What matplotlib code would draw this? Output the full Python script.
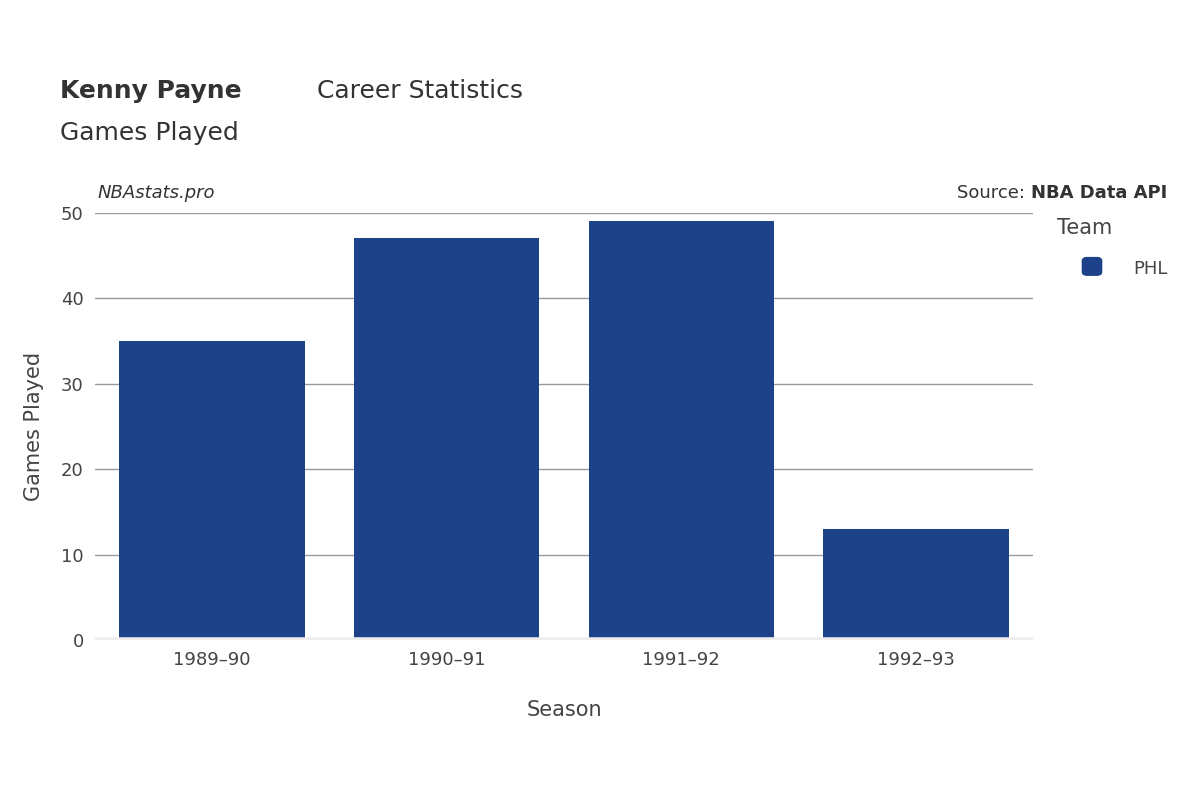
import matplotlib.pyplot as plt
from matplotlib.patches import FancyBboxPatch

seasons = ["1989–90", "1990–91", "1991–92", "1992–93"]
games = [35, 47, 49, 13]
team = "PHL"
color = "#1d428a"

fig = plt.figure(figsize=(12, 8), dpi=100)
ax = fig.add_axes([0.079, 0.2, 0.782, 0.534])

x = list(range(len(seasons)))
ax.bar(x, games, width=0.79, color=color, zorder=3)

ax.set_xlim(-0.5, 3.5)
ax.set_ylim(0, 50)
ax.set_yticks([0, 10, 20, 30, 40, 50])
ax.set_xticks(x)
ax.set_xticklabels(seasons)
ax.tick_params(axis="both", labelsize=13, colors="#444444", length=0, pad=8)
ax.grid(axis="y", color="#999999", linewidth=1, zorder=0)
ax.axhline(0, color="#eeeeee", linewidth=4, zorder=4)
for s in ax.spines.values():
    s.set_visible(False)

ax.set_xlabel("Season", fontsize=15, color="#444444", labelpad=22)
ax.set_ylabel("Games Played", fontsize=15, color="#444444", labelpad=12)

fig.text(0.05, 0.878, "Kenny Payne", fontsize=18, fontweight="bold", color="#333333")
fig.text(0.2645, 0.878, "Career Statistics", fontsize=18, color="#333333")
fig.text(0.05, 0.825, "Games Played", fontsize=18, color="#333333")
fig.text(0.081, 0.752, "NBAstats.pro", fontsize=13, style="italic", color="#333333")
fig.text(0.859, 0.752, "Source: ", fontsize=13, color="#333333", ha="right")
fig.text(0.859, 0.752, "NBA Data API", fontsize=13, fontweight="bold", color="#333333", ha="left")

fig.text(0.881, 0.708, "Team", fontsize=15, color="#444444")
fig.patches.append(FancyBboxPatch((0.902, 0.656), 0.016, 0.022,
                                  boxstyle="round,pad=0,rounding_size=0.004",
                                  transform=fig.transFigure, color=color))
fig.text(0.944, 0.658, team, fontsize=13, color="#444444")

fig.savefig("out.png", dpi=100)
